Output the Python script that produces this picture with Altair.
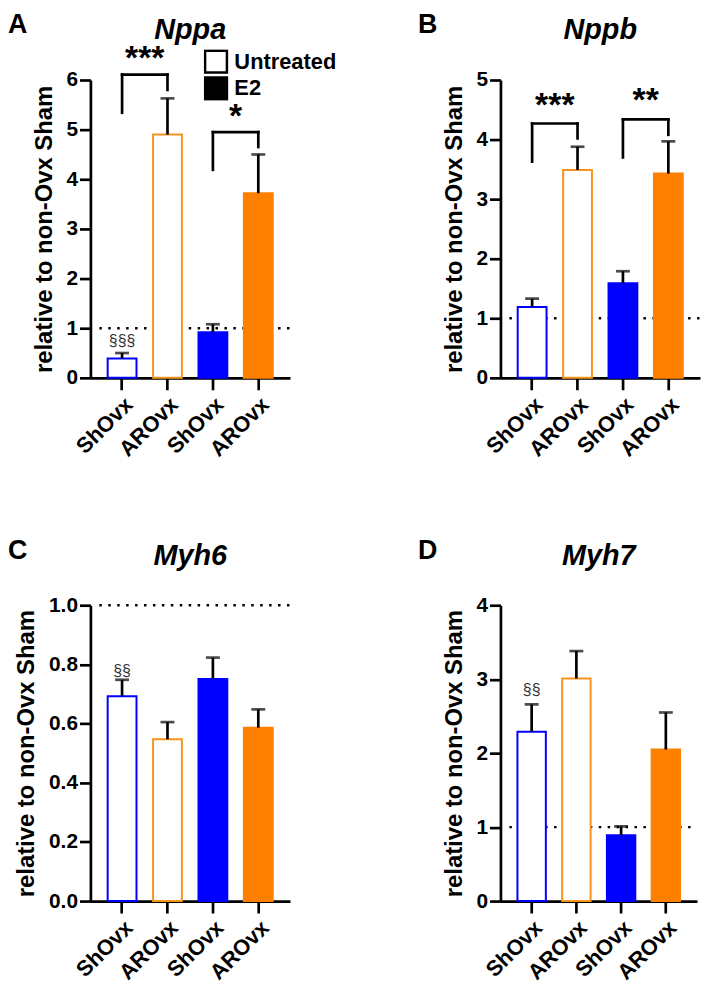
import altair as alt
import pandas as pd

FONT = "Liberation Sans"

# ---- data ----
keys = ["U_ShOvx", "U_AROvx", "E_ShOvx", "E_AROvx"]
treatments = ["Untreated", "E2"]
bar_fill = ["white", "white", "#0000FF", "#FF8000"]
bar_stroke = ["#0000FF", "#F7941D", "#0000FF", "#FF8000"]

nppa_mean = [0.39, 4.90, 0.92, 3.72]
nppa_err = [0.50, 5.63, 1.08, 4.50]
nppb_mean = [1.19, 3.49, 1.59, 3.43]
nppb_err = [1.33, 3.88, 1.79, 3.97]
myh6_mean = [0.692, 0.547, 0.751, 0.586]
myh6_err = [0.748, 0.605, 0.823, 0.648]
myh7_mean = [2.29, 3.01, 0.89, 2.05]
myh7_err = [2.66, 3.38, 1.01, 2.55]

# brackets: left bar, right bar, top, left leg end, right leg end, stars, star height
nppa_br_left = ["U_ShOvx", "E_ShOvx"]
nppa_br_right = ["U_AROvx", "E_AROvx"]
nppa_br_top = [6.11, 4.95]
nppa_br_lb = [5.34, 4.19]
nppa_br_rb = [5.80, 4.65]
nppa_br_txt = ["***", "*"]
nppa_br_ty = [6.44, 5.27]

nppb_br_left = ["U_ShOvx", "E_ShOvx"]
nppb_br_right = ["U_AROvx", "E_AROvx"]
nppb_br_top = [4.27, 4.34]
nppb_br_lb = [3.63, 3.70]
nppb_br_rb = [4.02, 4.08]
nppb_br_txt = ["***", "**"]
nppb_br_ty = [4.58, 4.66]

nppa_sect = (["U_ShOvx"], [0.71], ["§§§"])
myh6_sect = (["U_ShOvx"], [0.77], ["§§"])
myh7_sect = (["U_ShOvx"], [2.83], ["§§"])

YTITLE = "relative to non-Ovx Sham"

# ---- style ----
PAD_IN = 0.365
PAD_OUT = 0.38


def make_panel(letter, gene, means, errs, ymax, yvals, yfmt, width, height,
               brackets=None, sect=None, legend=False):
    step = width / (4 - PAD_IN + 2 * PAD_OUT)
    xscale = alt.Scale(domain=keys, paddingInner=PAD_IN, paddingOuter=PAD_OUT)
    xaxis = alt.Axis(labelExpr="slice(datum.label, 2)", title=None)
    yscale = alt.Scale(domain=[0, ymax], nice=False)
    yaxis = alt.Axis(values=yvals, format=yfmt)

    def X(f):
        return alt.X(f, type="nominal", scale=xscale, axis=xaxis, title=None)

    def Y(f):
        return alt.Y(f, type="quantitative", scale=yscale, axis=yaxis, title=YTITLE)

    df = pd.DataFrame({"key": keys, "mean": means, "err": errs,
                       "fill": bar_fill, "stroke": bar_stroke})
    base = alt.Chart(df)

    layers = []
    layers.append(
        alt.Chart(pd.DataFrame({"ref": [1.0]}))
        .mark_rule(color="black", strokeWidth=2.5, strokeDash=[2.5, 6.5])
        .encode(y=Y("ref"), x=alt.value(9), x2=alt.value(width))
    )
    layers.append(
        base.mark_bar(strokeWidth=2).encode(
            x=X("key"), y=Y("mean"),
            fill=alt.Fill("fill:N", scale=None),
            stroke=alt.Stroke("stroke:N", scale=None),
        )
    )
    layers.append(
        base.mark_rule(color="black", strokeWidth=2.7).encode(
            x=X("key"), y=Y("mean"), y2="err")
    )
    layers.append(
        base.mark_tick(color="black", thickness=2.7, size=14).encode(
            x=X("key"), y=Y("err"))
    )
    if brackets is not None:
        bl, br, top, lb, rb, txt, ty = brackets
        bdf = pd.DataFrame({"k1": bl, "k2": br, "top": top, "lb": lb, "rb": rb,
                            "txt": txt, "ty": ty})
        bb = alt.Chart(bdf)
        layers.append(bb.mark_rule(color="black", strokeWidth=2.7, strokeCap="square").encode(
            x=X("k1"), x2="k2", y=Y("top")))
        layers.append(bb.mark_rule(color="black", strokeWidth=2.7, strokeCap="square").encode(
            x=X("k1"), y=Y("lb"), y2="top"))
        layers.append(bb.mark_rule(color="black", strokeWidth=2.7, strokeCap="square").encode(
            x=X("k2"), y=Y("rb"), y2="top"))
        layers.append(bb.mark_text(font=FONT, fontSize=34, fontWeight="bold", color="black",
                                   align="center", baseline="alphabetic", dx=step / 2, dy=11).encode(
            x=X("k1"), y=Y("ty"), text="txt:N"))
    if sect is not None:
        sk, sy, st = sect
        sdf = pd.DataFrame({"key": sk, "sy": sy, "txt": st})
        layers.append(alt.Chart(sdf).mark_text(font=FONT, fontSize=16, color="#333333",
                                               align="center", baseline="alphabetic", dy=3).encode(
            x=X("key"), y=Y("sy"), text="txt:N"))
    if legend:
        ldf = pd.DataFrame({"treatment": treatments})
        layers.append(alt.Chart(ldf).mark_square(opacity=0, size=10).encode(
            fill=alt.Fill("treatment:N",
                          scale=alt.Scale(domain=treatments, range=["white", "black"]),
                          legend=alt.Legend(orient="none", legendX=114, legendY=-31,
                                            title=None, symbolType="square", symbolSize=484,
                                            symbolStrokeColor="black", symbolStrokeWidth=2.5,
                                            symbolOpacity=1, labelFont=FONT, labelFontSize=22,
                                            labelFontWeight="bold", labelColor="black",
                                            clipHeight=25, rowPadding=2, padding=0,
                                            labelOffset=6))))
    one = pd.DataFrame({"a": [0]})
    layers.append(alt.Chart(one).mark_text(text=letter, font=FONT, fontSize=27, fontWeight="bold",
                                           color="black", align="left", baseline="top").encode(
        x=alt.value(-83), y=alt.value(-68)))
    layers.append(alt.Chart(one).mark_text(text=gene, font=FONT, fontSize=29, fontWeight="bold",
                                           fontStyle="italic", color="black", align="center",
                                           baseline="alphabetic").encode(
        x=alt.value(width / 2), y=alt.value(-41)))
    return alt.layer(*layers).properties(width=width, height=height)


pA = make_panel("A", "Nppa", nppa_mean, nppa_err, 6, [0, 1, 2, 3, 4, 5, 6], "d", 201, 300,
                brackets=(nppa_br_left, nppa_br_right, nppa_br_top, nppa_br_lb, nppa_br_rb,
                          nppa_br_txt, nppa_br_ty),
                sect=nppa_sect, legend=True)
pB = make_panel("B", "Nppb", nppb_mean, nppb_err, 5, [0, 1, 2, 3, 4, 5], "d", 201, 300,
                brackets=(nppb_br_left, nppb_br_right, nppb_br_top, nppb_br_lb, nppb_br_rb,
                          nppb_br_txt, nppb_br_ty))
pC = make_panel("C", "Myh6", myh6_mean, myh6_err, 1.0, [0, 0.2, 0.4, 0.6, 0.8, 1.0], ".1f", 201, 298,
                sect=myh6_sect)
pD = make_panel("D", "Myh7", myh7_mean, myh7_err, 4, [0, 1, 2, 3, 4], "d", 198, 298,
                sect=myh7_sect)

chart = (
    alt.concat(pA, pB, pC, pD, columns=2, spacing={"row": 229, "column": 212}, bounds="flush")
    .properties(padding=0)
    .configure_view(stroke=None)
    .configure_axis(domainColor="black", domainWidth=2.7, tickColor="black", tickWidth=2.7,
                    labelColor="black", titleColor="black", labelFont=FONT, titleFont=FONT,
                    labelFontWeight="bold", titleFontWeight="bold", grid=False)
    .configure_axisY(labelFontSize=21, titleFontSize=24, tickSize=11, labelPadding=2, titlePadding=10)
    .configure_axisX(labelFontSize=22, labelAngle=-45, tickSize=12, labelPadding=4)
)

chart.save("out.html", embed_options={"renderer": "svg", "actions": False})
